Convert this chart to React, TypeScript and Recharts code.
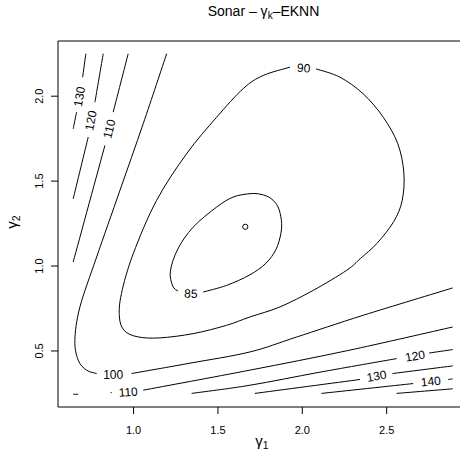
import { ComposedChart, Line, Scatter, XAxis, YAxis, ReferenceArea } from 'recharts'

// ---------------------------------------------------------------------------
// Sonar – gamma_k-EKNN : contour plot of the error surface over (γ1, γ2)
// ---------------------------------------------------------------------------

const xTicks = [1.0, 1.5, 2.0, 2.5]
const yTicks = [0.5, 1.0, 1.5, 2.0]

// contour 85 (closed loop, opened at its label)
const c85 = [
  { x: 1.413, y: 0.847 }, { x: 1.551, y: 0.886 }, { x: 1.689, y: 0.948 },
  { x: 1.784, y: 1.016 }, { x: 1.844, y: 1.098 }, { x: 1.873, y: 1.192 },
  { x: 1.876, y: 1.269 }, { x: 1.856, y: 1.348 }, { x: 1.814, y: 1.398 },
  { x: 1.755, y: 1.422 }, { x: 1.69, y: 1.426 }, { x: 1.59, y: 1.406 },
  { x: 1.492, y: 1.347 }, { x: 1.353, y: 1.229 }, { x: 1.262, y: 1.1 },
  { x: 1.218, y: 0.97 }, { x: 1.232, y: 0.882 }, { x: 1.264, y: 0.853 },
]

// contour 90 (closed loop, opened at its label)
const c90 = [
  { x: 2.081, y: 2.161 }, { x: 2.223, y: 2.112 }, { x: 2.361, y: 2.014 },
  { x: 2.48, y: 1.876 }, { x: 2.566, y: 1.72 }, { x: 2.602, y: 1.548 },
  { x: 2.592, y: 1.386 }, { x: 2.542, y: 1.262 }, { x: 2.443, y: 1.134 },
  { x: 2.345, y: 1.045 }, { x: 2.263, y: 0.975 }, { x: 2.065, y: 0.857 },
  { x: 1.867, y: 0.759 }, { x: 1.689, y: 0.7 }, { x: 1.551, y: 0.651 },
  { x: 1.353, y: 0.602 }, { x: 1.156, y: 0.577 }, { x: 1.025, y: 0.583 },
  { x: 0.945, y: 0.62 }, { x: 0.916, y: 0.7 }, { x: 0.928, y: 0.838 },
  { x: 0.998, y: 1.073 }, { x: 1.136, y: 1.386 }, { x: 1.314, y: 1.661 },
  { x: 1.492, y: 1.876 }, { x: 1.65, y: 2.045 }, { x: 1.768, y: 2.122 },
  { x: 1.927, y: 2.171 },
]

// contour 100
const c100a = [
  { x: 1.196, y: 2.25 }, { x: 1.057, y: 1.838 }, { x: 0.919, y: 1.445 },
  { x: 0.781, y: 1.053 }, { x: 0.682, y: 0.759 }, { x: 0.652, y: 0.563 },
  { x: 0.672, y: 0.445 }, { x: 0.721, y: 0.387 }, { x: 0.781, y: 0.367 },
]
const c100b = [
  { x: 0.988, y: 0.367 }, { x: 1.334, y: 0.428 }, { x: 1.689, y: 0.494 },
  { x: 1.966, y: 0.582 }, { x: 2.361, y: 0.71 }, { x: 2.891, y: 0.871 },
]

// contour 110
const c110a = [{ x: 0.968, y: 2.25 }, { x: 0.879, y: 1.906 }]
const c110b = [{ x: 0.83, y: 1.71 }, { x: 0.642, y: 1.024 }]
const c110c = [{ x: 0.642, y: 0.245 }, { x: 0.672, y: 0.245 }]
const c110d = [{ x: 0.864, y: 0.254 }, { x: 0.871, y: 0.255 }]
const c110e = [
  { x: 1.057, y: 0.269 }, { x: 1.689, y: 0.387 }, { x: 2.263, y: 0.501 },
  { x: 2.891, y: 0.641 },
]

// contour 120
const c120a = [{ x: 0.82, y: 2.25 }, { x: 0.771, y: 1.965 }]
const c120b = [{ x: 0.731, y: 1.759 }, { x: 0.642, y: 1.396 }]
const c120c = [
  { x: 1.344, y: 0.25 }, { x: 1.689, y: 0.298 }, { x: 2.104, y: 0.375 },
  { x: 2.559, y: 0.455 },
]
const c120d = [{ x: 2.752, y: 0.488 }, { x: 2.891, y: 0.508 }]

// contour 130
const c130a = [{ x: 0.717, y: 2.25 }, { x: 0.698, y: 2.112 }]
const c130b = [{ x: 0.662, y: 1.906 }, { x: 0.642, y: 1.808 }]
const c130c = [{ x: 1.719, y: 0.25 }, { x: 2.342, y: 0.332 }]
const c130d = [{ x: 2.535, y: 0.367 }, { x: 2.891, y: 0.412 }]

// contour 140
const c140a = [{ x: 2.114, y: 0.25 }, { x: 2.657, y: 0.308 }]
const c140b = [{ x: 2.865, y: 0.332 }, { x: 2.891, y: 0.335 }]

// contour 150 (unlabelled)
const c150 = [{ x: 2.559, y: 0.25 }, { x: 2.891, y: 0.277 }]

const contourLabels = [
  { id: '85', x: 1.34, y: 0.838, level: 85 },
  { id: '90', x: 2.008, y: 2.167, level: 90 },
  { id: '100', x: 0.879, y: 0.361, level: 100 },
  { id: '110a', x: 0.855, y: 1.808, level: 110 },
  { id: '110b', x: 0.968, y: 0.259, level: 110 },
  { id: '120a', x: 0.745, y: 1.857, level: 120 },
  { id: '120b', x: 2.668, y: 0.471, level: 120 },
  { id: '130a', x: 0.678, y: 1.998, level: 130 },
  { id: '130b', x: 2.44, y: 0.353, level: 130 },
  { id: '140', x: 2.762, y: 0.322, level: 140 },
]

const minimum = [{ x: 1.662, y: 1.231 }]

const segments = [
  c85, c90, c100a, c100b, c110a, c110b, c110c, c110d, c110e,
  c120a, c120b, c120c, c120d, c130a, c130b, c130c, c130d, c140a, c140b, c150,
]

// label rotation follows the local direction of the contour
const labelTilt: Record<string, number> = {
  '85': 2, '90': 3, '100': 0, '110a': -76, '110b': -4,
  '120a': -79, '120b': -10, '130a': -80, '130b': -10, '140': -6,
}

const FONT = '"Liberation Sans", Arial, Helvetica, sans-serif'
const X_DOMAIN: [number, number] = [0.552, 2.988]
const Y_DOMAIN: [number, number] = [0.17, 2.325]

// local Catmull-Rom curve (d3 curve interface), smoother than a global spline
// for unevenly spaced contour points
function catmullRom(context: any) {
  let pts: number[][] = []
  return {
    areaStart() {},
    areaEnd() {},
    lineStart() { pts = [] },
    point(x: number, y: number) { pts.push([x, y]) },
    lineEnd() {
      const n = pts.length
      if (!n) return
      context.moveTo(pts[0][0], pts[0][1])
      for (let i = 0; i < n - 1; i++) {
        const p0 = pts[i - 1] || pts[i]
        const p1 = pts[i]
        const p2 = pts[i + 1]
        const p3 = pts[i + 2] || p2
        context.bezierCurveTo(
          p1[0] + (p2[0] - p0[0]) / 6, p1[1] + (p2[1] - p0[1]) / 6,
          p2[0] - (p3[0] - p1[0]) / 6, p2[1] - (p3[1] - p1[1]) / 6,
          p2[0], p2[1],
        )
      }
    },
  }
}

const XTick = ({ x, y, payload }: any) => (
  <text x={x} y={y + 17.5} textAnchor="middle" fontSize={11} fontFamily={FONT} fill="#000">
    {payload.value.toFixed(1)}
  </text>
)

const YTick = ({ x, y, payload }: any) => {
  const tx = x - 6
  return (
    <text x={tx} y={y} transform={`rotate(-90, ${tx}, ${y})`} textAnchor="middle"
      fontSize={11} fontFamily={FONT} fill="#000">
      {payload.value.toFixed(1)}
    </text>
  )
}

const ContourLabel = ({ cx, cy, payload }: any) => {
  const a = labelTilt[payload.id] ?? 0
  return (
    <text x={cx} y={cy} dy="0.36em" textAnchor="middle" fontSize={12} fontFamily={FONT}
      fill="#000" transform={`rotate(${a}, ${cx}, ${cy})`}>
      {payload.level}
    </text>
  )
}

const MinDot = ({ cx, cy }: any) => (
  <circle cx={cx} cy={cy} r={2.6} fill="none" stroke="#000" strokeWidth={1} />
)

export default function App() {
  return (
    <div style={{ position: 'absolute', left: 0, top: 0, width: 460, height: 454, overflow: 'hidden', background: '#fff' }}>
      <ComposedChart width={480} height={454} margin={{ top: 41, right: 11, bottom: 0, left: 0 }}>
        <XAxis type="number" dataKey="x" domain={X_DOMAIN} allowDataOverflow ticks={xTicks}
          height={47} tickSize={7} tickMargin={2} axisLine={false}
          tickLine={{ stroke: '#000' }} tick={XTick} />
        <YAxis type="number" dataKey="y" domain={Y_DOMAIN} allowDataOverflow ticks={yTicks}
          width={58} tickSize={7} tickMargin={2} axisLine={false}
          tickLine={{ stroke: '#000' }} tick={YTick} />
        <ReferenceArea x1={X_DOMAIN[0]} x2={X_DOMAIN[1]} y1={Y_DOMAIN[0]} y2={Y_DOMAIN[1]}
          fill="none" fillOpacity={0} stroke="#000" strokeWidth={1} ifOverflow="visible" />
        {segments.map((seg, i) => (
          <Line key={`seg-${i}`} data={seg} dataKey="y" type={catmullRom as any} dot={false}
            activeDot={false} stroke="#000" strokeWidth={1} isAnimationActive={false} />
        ))}
        <Scatter data={contourLabels} dataKey="y" shape={ContourLabel} isAnimationActive={false} />
        <Scatter data={minimum} dataKey="y" shape={MinDot} isAnimationActive={false} />
      </ComposedChart>
      <svg width={460} height={454} style={{ position: 'absolute', left: 0, top: 0, pointerEvents: 'none' }}>
        <text x={263.5} y={16} textAnchor="middle" fontSize={14} fontFamily={FONT} fill="#000">
          Sonar – γ<tspan fontSize={10} dy={3}>k</tspan><tspan dy={-3}>–EKNN</tspan>
        </text>
        <text x={262} y={446} textAnchor="middle" fontSize={15} fontFamily={FONT} fill="#000">
          γ<tspan fontSize={10.5} dy={3}>1</tspan>
        </text>
        <text x={17} y={222} transform="rotate(-90, 17, 222)" textAnchor="middle" fontSize={15}
          fontFamily={FONT} fill="#000">
          γ<tspan fontSize={10.5} dy={3}>2</tspan>
        </text>
      </svg>
    </div>
  )
}
